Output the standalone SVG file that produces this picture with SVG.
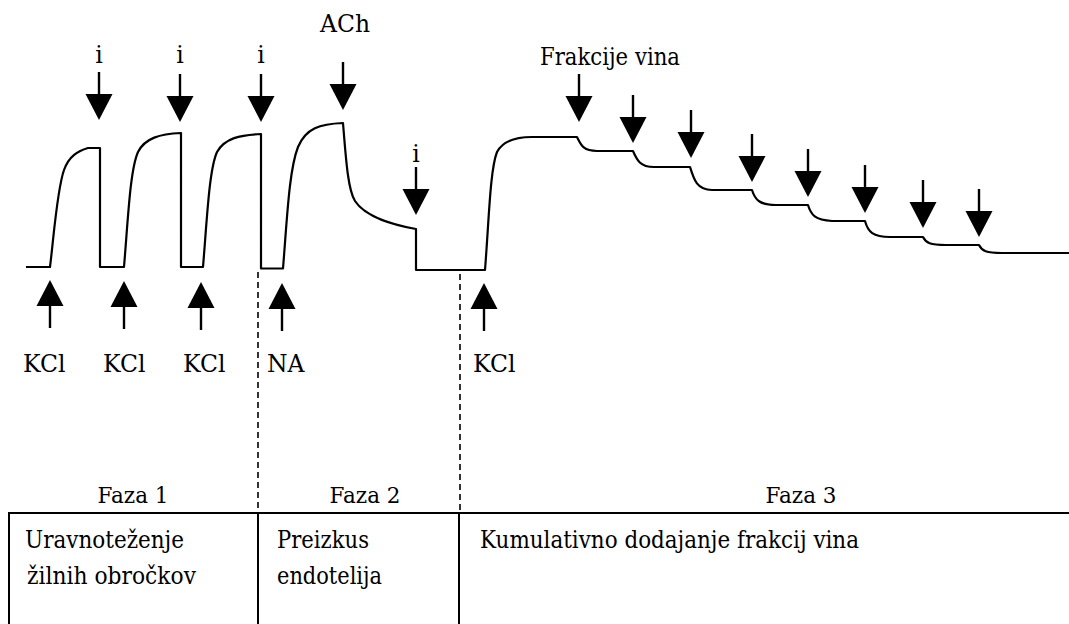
<svg xmlns="http://www.w3.org/2000/svg" xmlns:xlink="http://www.w3.org/1999/xlink" width="1069" height="624" viewBox="0 0 1069 624">
<style>
text{font-family:"DejaVu Serif","Liberation Serif",serif;font-size:23.5px;fill:#000}
.mid{text-anchor:middle}
.ph{font-size:21.5px;text-anchor:middle}
.trace{fill:none;stroke:#000;stroke-width:2.2;stroke-linejoin:round}
.dash{fill:none;stroke:#000;stroke-width:1.6;stroke-dasharray:6,4}
.rule{fill:none;stroke:#000;stroke-width:2}
</style>
<defs>
<g id="down"><line x1="0" y1="-48" x2="0" y2="-24" stroke="#000" stroke-width="2.4"/><polygon points="-13.5,-26 13.5,-26 0,0" fill="#000"/></g>
<g id="up"><line x1="0" y1="48" x2="0" y2="24" stroke="#000" stroke-width="2.4"/><polygon points="-13.5,26 13.5,26 0,0" fill="#000"/></g>
</defs>
<rect width="1069" height="624" fill="#fff"/>
<g id="trace">
<path class="trace" d="M26,267 H50 C54,235 57,190 64,170 C69,156 78,151 88,148 H100 V267 H124 C128,220 130,170 138,152 C145,138 160,134 181,133 V267 H203 C207,220 209,170 217,152 C225,138 240,135 261,134 V268.5 H283 C287,220 289,170 298,147 C306,128 320,124 343,123 C346,160 348,190 355,201 C366,218 395,225 416,229 V270 H485 C489,220 490,170 497,152 C504,139 520,137 532,137 H577 C581,145 583,151 597,151 H633 C637,160 640,167 654,167 H690 C694,180 697,190 712,190 H752 C755,200 760,205 776,205 H808 C811,215 815,220 832,221 H865 C868,232 873,237 890,237 H923 C926,243 930,245 946,245 H979 C982,251 986,253 1002,253 H1069"/>
</g>
<g id="connectors">
<line class="dash" x1="258" y1="272" x2="258" y2="513"/>
<line class="dash" x1="460" y1="274" x2="460" y2="513"/>
</g>
<g id="i-1"><use xlink:href="#down" x="99" y="120"/><text class="mid" x="99" y="63">i</text></g>
<g id="i-2"><use xlink:href="#down" x="180" y="122"/><text class="mid" x="180" y="63">i</text></g>
<g id="i-3"><use xlink:href="#down" x="261" y="122"/><text class="mid" x="261" y="63">i</text></g>
<g id="ach"><use xlink:href="#down" x="343" y="110"/><text x="320" y="32" textLength="50" lengthAdjust="spacingAndGlyphs">ACh</text></g>
<g id="i-4"><use xlink:href="#down" x="416" y="215"/><text class="mid" x="416" y="162">i</text></g>
<g id="frakcije">
<text x="540" y="65" textLength="140" lengthAdjust="spacingAndGlyphs">Frakcije vina</text>
<use xlink:href="#down" x="579" y="122"/>
<use xlink:href="#down" x="633" y="143"/>
<use xlink:href="#down" x="691" y="158"/>
<use xlink:href="#down" x="752" y="182"/>
<use xlink:href="#down" x="808" y="197"/>
<use xlink:href="#down" x="865" y="213"/>
<use xlink:href="#down" x="923" y="228"/>
<use xlink:href="#down" x="979" y="237"/>
</g>
<g id="kcl-1"><use xlink:href="#up" x="50" y="280"/><text x="23" y="372">KCl</text></g>
<g id="kcl-2"><use xlink:href="#up" x="124" y="281"/><text x="103" y="372">KCl</text></g>
<g id="kcl-3"><use xlink:href="#up" x="201" y="282"/><text x="183" y="372">KCl</text></g>
<g id="na"><use xlink:href="#up" x="282" y="283"/><text x="267" y="372">NA</text></g>
<g id="kcl-4"><use xlink:href="#up" x="484" y="283"/><text x="473" y="372">KCl</text></g>
<g id="phases">
<text class="ph" x="133" y="503">Faza 1</text>
<text class="ph" x="365" y="503">Faza 2</text>
<text class="ph" x="801" y="503">Faza 3</text>
</g>
<g id="table">
<line class="rule" x1="9" y1="513" x2="1069" y2="513"/>
<line class="rule" x1="9" y1="512" x2="9" y2="624"/>
<line class="rule" x1="258" y1="512" x2="258" y2="624"/>
<line class="rule" x1="459" y1="512" x2="459" y2="624"/>
<text x="25" y="548" textLength="159" lengthAdjust="spacingAndGlyphs">Uravnoteženje</text>
<text x="27" y="584" textLength="169" lengthAdjust="spacingAndGlyphs">žilnih obročkov</text>
<text x="277" y="548" textLength="92" lengthAdjust="spacingAndGlyphs">Preizkus</text>
<text x="277" y="584" textLength="105" lengthAdjust="spacingAndGlyphs">endotelija</text>
<text x="480" y="548" textLength="379" lengthAdjust="spacingAndGlyphs">Kumulativno dodajanje frakcij vina</text>
</g>
</svg>
